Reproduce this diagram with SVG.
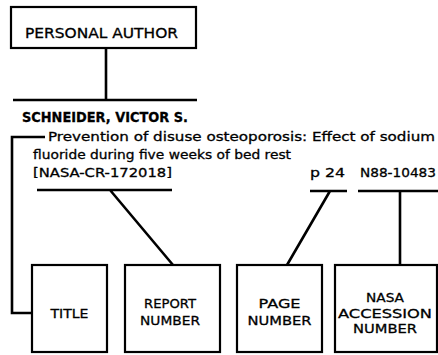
<svg xmlns="http://www.w3.org/2000/svg" width="438" height="355" viewBox="0 0 438 355">
<style>
.box{fill:#fff;stroke:#000;stroke-width:2.2}
.ln{fill:none;stroke:#000;stroke-width:2.6;stroke-linecap:butt}
text{font-family:"DejaVu Sans","Liberation Sans",sans-serif;fill:#000;stroke:#000;stroke-width:0.3}
.lbl{font-size:12.5px;text-anchor:middle}
.body{font-size:12.5px}
</style>
<rect width="438" height="355" fill="#fff"/>
<g id="personal-author">
<rect class="box" x="11" y="7" width="185" height="41"/>
<text x="25" y="37.5" font-size="14" textLength="153" lengthAdjust="spacingAndGlyphs">PERSONAL AUTHOR</text>
</g>
<g id="citation">
<text x="22" y="121.5" font-family="Liberation Sans, Arial, sans-serif" font-size="13.5" font-weight="bold" textLength="166" lengthAdjust="spacingAndGlyphs">SCHNEIDER, VICTOR S.</text>
<text class="body" x="48" y="140.5" textLength="387" lengthAdjust="spacingAndGlyphs">Prevention of disuse osteoporosis: Effect of sodium</text>
<text class="body" x="33" y="158.5" textLength="258" lengthAdjust="spacingAndGlyphs">fluoride during five weeks of bed rest</text>
<text class="body" x="33" y="176.5" textLength="139" lengthAdjust="spacingAndGlyphs">[NASA-CR-172018]</text>
<text class="body" x="310" y="176.5" textLength="35" lengthAdjust="spacingAndGlyphs">p 24</text>
<text class="body" x="360" y="176.5" textLength="76" lengthAdjust="spacingAndGlyphs">N88-10483</text>
</g>
<g id="title">
<rect class="box" x="32" y="265" width="75" height="87"/>
<text class="lbl" x="69.5" y="317.5" textLength="38" lengthAdjust="spacingAndGlyphs">TITLE</text>
</g>
<g id="report-number">
<rect class="box" x="125" y="265" width="95" height="87"/>
<text class="lbl" x="170" y="307.5" textLength="52" lengthAdjust="spacingAndGlyphs">REPORT</text>
<text class="lbl" x="170" y="324.5" textLength="60" lengthAdjust="spacingAndGlyphs">NUMBER</text>
</g>
<g id="page-number">
<rect class="box" x="237" y="265" width="85" height="87"/>
<text class="lbl" x="279.5" y="307.5" textLength="42" lengthAdjust="spacingAndGlyphs">PAGE</text>
<text class="lbl" x="279.5" y="324.5" textLength="64" lengthAdjust="spacingAndGlyphs">NUMBER</text>
</g>
<g id="nasa-accession-number">
<rect class="box" x="335" y="265" width="102" height="87"/>
<text class="lbl" x="385" y="301.5" textLength="38" lengthAdjust="spacingAndGlyphs">NASA</text>
<text class="lbl" x="385" y="317.5" textLength="94" lengthAdjust="spacingAndGlyphs">ACCESSION</text>
<text class="lbl" x="385" y="332.5" textLength="64" lengthAdjust="spacingAndGlyphs">NUMBER</text>
</g>
<g id="connectors">
<path class="ln" d="M106 48V100M13 100H197"/>
<path class="ln" d="M45 137H12V313H32"/>
<path class="ln" d="M37 190H172M110 190L173 265"/>
<path class="ln" d="M310 191H347M330 191L287 265"/>
<path class="ln" d="M358 191H438M400 191V265"/>
</g>
</svg>
